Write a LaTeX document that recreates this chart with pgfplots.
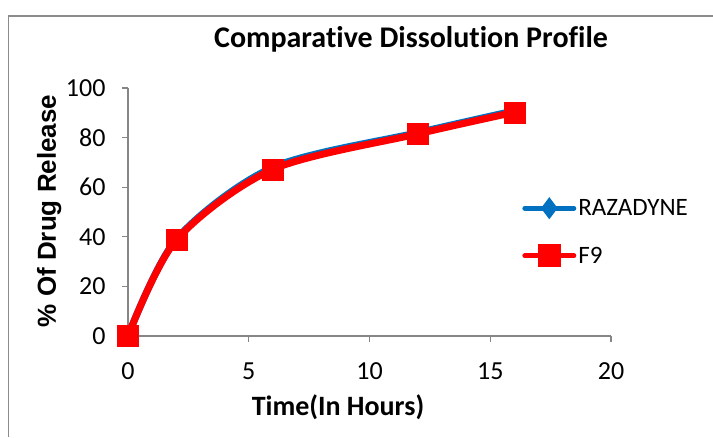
\documentclass[border=0pt]{standalone}
\usepackage{fontspec}
\setmainfont{Carlito}[Ligatures=NoCommon]
\newfontfamily\arialfont{Liberation Sans}
\usepackage{pgfplots}
\pgfplotsset{compat=1.18}
\definecolor{razblue}{HTML}{0070C0}
\definecolor{axisgray}{HTML}{868686}
\definecolor{framegray}{HTML}{8C8C8C}

\begin{document}
\begin{tikzpicture}[x=1pt,y=1pt]
\useasboundingbox (0,0) rectangle (713,437);
% chart area border
\draw[framegray, line width=1.5pt] (8.5,0) -- (8.5,421) -- (713,421);
\begin{axis}[
  at={(128pt,101pt)}, anchor=south west,
  scale only axis, width=483pt, height=248pt,
  xmin=0, xmax=20, ymin=0, ymax=100,
  axis lines*=left,
  axis line style={axisgray, line width=1.5pt},
  xtick={0,5,...,20}, ytick={0,20,...,100},
  tick align=outside, major tick length=6pt,
  tick style={axisgray, line width=1.2pt},
  ticklabel style={font=\fontsize{26}{30}\selectfont},
  xticklabel style={yshift=-17pt},
  yticklabel style={xshift=-13pt},
  /pgf/number format/assume math mode=true,
  clip=false,
  legend style={draw=none, fill=none, at={(0.816,0.419)}, anchor=west,
    font=\fontsize{25}{30}\selectfont, row sep=26pt, inner sep=0pt},
  legend cell align=left,
  legend image code/.code={
    \draw[#1, mark=none, line cap=round, line width=5pt] (0pt,0pt) -- (49pt,0pt);
    \draw[#1, only marks, mark options={scale=0.75}] plot coordinates {(24.5pt,0pt)};
  },
]
\addplot[razblue, line width=7pt, line cap=round, smooth,
  mark=diamond*, mark size=7pt, mark options={line width=0.4pt}]
  coordinates {(0,0) (2,39) (6,68) (12,82) (16,90.8)};
\addplot[red, line width=7pt, line cap=round, smooth,
  mark=square*, mark size=10.5pt, mark options={line width=0.4pt}]
  coordinates {(0,0) (2,38.7) (6,67.2) (12,81.5) (16,90.2)};
\legend{RAZADYNE, F9}
\end{axis}
\node[anchor=base, font=\bfseries\fontsize{30}{36}\selectfont] at (411,389) {Comparative Dissolution Profile};
\node[anchor=base, font=\bfseries\fontsize{28}{34}\selectfont] at (338,21) {Time(In Hours)};
\node[rotate=90, anchor=base, font=\arialfont\bfseries\fontsize{26}{30}\selectfont] at (56,226) {\% Of Drug Release};
\end{tikzpicture}
\end{document}
